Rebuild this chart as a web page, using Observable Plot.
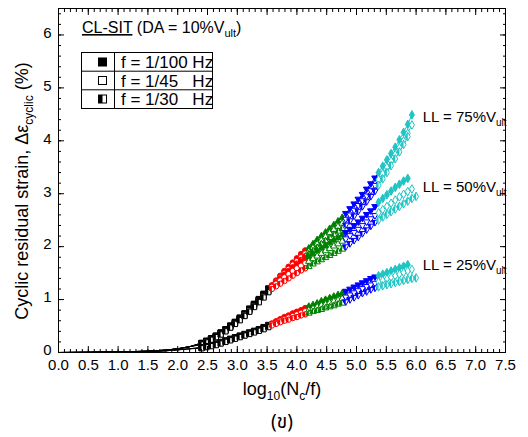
<!DOCTYPE html>
<html><head><meta charset="utf-8">
<script src="https://cdn.jsdelivr.net/npm/d3@7"></script>
<script src="https://cdn.jsdelivr.net/npm/@observablehq/plot@0.6"></script>
<style>
body{margin:0;background:#fff;}
svg{font-family:"Liberation Sans",Arial,sans-serif;}
</style>
</head><body><div id="chart"></div>
<script>
// ---------- data ----------
const xLead  = [0, 0.5, 1.0, 1.5, 1.8, 2.0, 2.2];
const leadUpper = [0, 0.004, 0.01, 0.025, 0.045, 0.07, 0.11];
const leadLower = [0, 0.003, 0.007, 0.018, 0.032, 0.05, 0.07];

const xBlack = [2.40, 2.48, 2.56, 2.64, 2.72, 2.80, 2.88, 2.96, 3.04, 3.12, 3.20, 3.28, 3.36, 3.44, 3.52];
const xRed   = [3.58, 3.65, 3.72, 3.79, 3.86, 3.93, 4.00, 4.07, 4.14];
const xGreen = [4.20, 4.27, 4.34, 4.41, 4.48, 4.55, 4.62, 4.69, 4.76];
const xBlue  = [4.82, 4.89, 4.96, 5.03, 5.10, 5.17, 5.24, 5.31];
const xCyan  = [5.37, 5.44, 5.51, 5.58, 5.65, 5.72, 5.79, 5.86, 5.93, 6.00];

const y75F = [0.18,0.22,0.27,0.32,0.38,0.44,0.51,0.58,0.66,0.74,0.83,0.92,1.01,1.11,1.21,
  1.27,1.36,1.45,1.54,1.62,1.70,1.78,1.86,1.93,
  1.97,2.05,2.13,2.20,2.27,2.34,2.41,2.48,2.55,
  2.63,2.72,2.81,2.90,2.99,3.09,3.19,3.30,
  3.40,3.52,3.64,3.76,3.88,4.02,4.16,4.31,4.49];
const y75O = [0.17,0.21,0.26,0.31,0.37,0.43,0.50,0.57,0.64,0.72,0.81,0.90,0.99,1.09,1.19,
  1.26,1.34,1.42,1.50,1.58,1.66,1.73,1.80,1.87,
  1.91,1.98,2.05,2.12,2.19,2.26,2.32,2.38,2.44,
  2.52,2.60,2.69,2.78,2.87,2.96,3.06,3.16,
  3.27,3.38,3.50,3.62,3.74,3.87,4.00,4.14,4.30];
const y75H = [0.16,0.20,0.25,0.30,0.36,0.42,0.48,0.55,0.62,0.70,0.79,0.88,0.97,1.07,1.17,
  1.25,1.32,1.40,1.47,1.54,1.61,1.68,1.75,1.82,
  1.86,1.92,1.98,2.05,2.11,2.17,2.23,2.29,2.34,
  2.41,2.49,2.58,2.67,2.76,2.85,2.95,3.05,
  3.16,3.28,3.40,3.53,3.66,3.79,3.93,4.08];
const y50F = [0.18,0.22,0.26,0.31,0.37,0.43,0.50,0.57,0.65,0.73,0.82,0.91,1.00,1.10,1.20,
  1.25,1.32,1.39,1.46,1.53,1.60,1.66,1.72,1.78,
  1.81,1.86,1.92,1.97,2.02,2.07,2.12,2.17,2.22,
  2.27,2.33,2.40,2.47,2.54,2.61,2.68,2.76,
  2.84,2.91,2.98,3.05,3.12,3.18,3.24,3.29];
const y50O = [0.16,0.20,0.25,0.30,0.35,0.41,0.48,0.55,0.63,0.71,0.79,0.88,0.97,1.06,1.16,
  1.24,1.30,1.36,1.42,1.48,1.54,1.59,1.64,1.69,
  1.72,1.77,1.82,1.87,1.92,1.96,2.01,2.05,2.10,
  2.15,2.21,2.27,2.33,2.40,2.47,2.53,2.59,
  2.64,2.70,2.76,2.82,2.88,2.94,2.99,3.04,3.09];
const y50H = [0.15,0.19,0.24,0.29,0.34,0.40,0.47,0.54,0.61,0.69,0.77,0.86,0.95,1.04,1.14,
  1.20,1.25,1.30,1.35,1.40,1.45,1.50,1.55,1.59,
  1.62,1.67,1.71,1.75,1.79,1.83,1.87,1.91,1.95,
  2.00,2.06,2.12,2.18,2.25,2.32,2.39,2.46,
  2.50,2.56,2.61,2.66,2.71,2.76,2.81,2.86,2.91,2.95];
const y25F = [0.10,0.12,0.14,0.17,0.20,0.23,0.26,0.29,0.32,0.35,0.38,0.41,0.44,0.48,0.52,
  0.55,0.59,0.63,0.67,0.70,0.74,0.77,0.80,0.84,
  0.87,0.90,0.93,0.97,1.00,1.03,1.06,1.09,1.12,
  1.16,1.20,1.24,1.28,1.32,1.36,1.40,1.43,
  1.45,1.48,1.51,1.54,1.57,1.60,1.63,1.66];
const y25O = [0.09,0.11,0.13,0.15,0.18,0.21,0.24,0.27,0.30,0.33,0.36,0.39,0.42,0.46,0.50,
  0.53,0.56,0.60,0.63,0.66,0.69,0.72,0.75,0.78,
  0.80,0.83,0.86,0.89,0.91,0.94,0.97,0.99,1.02,
  1.05,1.09,1.13,1.17,1.21,1.25,1.28,1.31,
  1.33,1.36,1.39,1.42,1.45,1.48,1.51,1.54,1.57];
const y25H = [0.08,0.10,0.12,0.14,0.17,0.20,0.23,0.26,0.29,0.32,0.35,0.38,0.41,0.44,0.48,
  0.51,0.54,0.57,0.60,0.62,0.65,0.67,0.70,0.72,
  0.74,0.77,0.79,0.81,0.84,0.86,0.88,0.91,0.93,
  0.96,1.00,1.04,1.08,1.12,1.15,1.19,1.22,
  1.24,1.26,1.28,1.30,1.32,1.34,1.36,1.38,1.40,1.41];

const curveNames = ["75F","75O","75H","50F","50O","50H","25F","25O","25H"];
const curveY     = [y75F, y75O, y75H, y50F, y50O, y50H, y25F, y25O, y25H];
const curveFill  = ["solid","open","half","solid","open","half","solid","open","half"];
const curveGroup = ["upper","upper","upper","upper","upper","upper","lower","lower","lower"];

const stageX      = [xBlack, xRed, xGreen, xBlue, xCyan];
const stageColors = ["#000000", "#ff0000", "#008000", "#0000ff", "#1fc4c4"];

const xTicks = [0,0.5,1,1.5,2,2.5,3,3.5,4,4.5,5,5.5,6,6.5,7,7.5];
const yTicks = [0,1,2,3,4,5,6];
const legendLabels = ["f = 1/100 Hz", "f = 1/45   Hz", "f = 1/30   Hz"];
const llLabels = ["LL = 75%V", "LL = 50%V", "LL = 25%V"];
const llX = [6.12, 6.12, 6.12];
const llY = [4.35, 3.02, 1.55];

// ---------- build tables ----------
const points = [], lineRows = [];
curveNames.forEach((name, c) => {
  const lead = curveGroup[c] === "upper" ? leadUpper : leadLower;
  xLead.forEach((x, i) => lineRows.push({curve: name, x, y: lead[i], stage: 0}));
  let k = 0;
  stageX.forEach((xs, s) => xs.forEach(x => {
    if (k < curveY[c].length) {
      const p = {curve: name, x, y: curveY[c][k++], stage: s, fill: curveFill[c]};
      points.push(p); lineRows.push(p);
    }
  }));
});

// ---------- symbols ----------
const sqrt3 = Math.sqrt(3), tan30 = Math.sqrt(1/3);
const triDown = {draw(ctx, size){ const y = -Math.sqrt(size/(sqrt3*3)); ctx.moveTo(0,-y*2); ctx.lineTo(-sqrt3*y, y); ctx.lineTo(sqrt3*y, y); ctx.closePath(); }};
const halfSquare = {draw(ctx, size){ const s = Math.sqrt(size)/2; ctx.moveTo(-s,-s); ctx.lineTo(0,-s); ctx.lineTo(0,s); ctx.lineTo(-s,s); ctx.closePath(); }};
const halfCircle = {draw(ctx, size){ const r = Math.sqrt(size/Math.PI); ctx.moveTo(0,-r); ctx.arc(0,0,r,-Math.PI/2,Math.PI/2,true); ctx.closePath(); }};
const halfTriUp = {draw(ctx, size){ const y = -Math.sqrt(size/(sqrt3*3)); ctx.moveTo(0,2*y); ctx.lineTo(sqrt3*y,-y); ctx.lineTo(0,-y); ctx.closePath(); }};
const halfTriDown = {draw(ctx, size){ const y = -Math.sqrt(size/(sqrt3*3)); ctx.moveTo(0,-2*y); ctx.lineTo(sqrt3*y,y); ctx.lineTo(0,y); ctx.closePath(); }};
const halfDiamond = {draw(ctx, size){ const y = Math.sqrt(size/(2*tan30)), x = y*tan30; ctx.moveTo(0,-y); ctx.lineTo(-x,0); ctx.lineTo(0,y); ctx.closePath(); }};
const fullSym = [d3.symbolSquare, d3.symbolCircle, d3.symbolTriangle, triDown, d3.symbolDiamond];
const halfSym = [halfSquare, halfCircle, halfTriUp, halfTriDown, halfDiamond];
const stageR  = [3.0, 2.7, 2.4, 2.4, 2.6];

const dotMarks = [];
curveNames.forEach((name) => {
  [0,1,2,3,4].forEach(s => {
    const pts = points.filter(p => p.curve === name && p.stage === s);
    if (!pts.length) return;
    const col = stageColors[s];
    const f = pts[0].fill;
    dotMarks.push(Plot.dot(pts, {x: "x", y: "y", symbol: fullSym[s], r: stageR[s],
      fill: f === "solid" ? col : "white", stroke: col, strokeWidth: 1}));
    if (f === "half") dotMarks.push(Plot.dot(pts, {x: "x", y: "y", symbol: halfSym[s], r: stageR[s], fill: col, stroke: "none"}));
  });
});

const xMinor = d3.range(0, 7.5001, 0.1);
const yMinor = d3.range(0, 6.5001, 0.2);
const blank = () => "";

const plot = Plot.plot({
  width: 528, height: 437,
  marginLeft: 58, marginRight: 23, marginTop: 8, marginBottom: 85,
  x: {domain: [0, 7.5], label: null},
  y: {domain: [0, 6.5], label: null},
  style: {fontFamily: "'Liberation Sans', Arial, sans-serif", fontSize: "15px", color: "#000", background: "#fff"},
  marks: [
    Plot.line(lineRows, {x: "x", y: "y", z: "curve", stroke: d => stageColors[d.stage], strokeWidth: 1}),
    ...dotMarks,
    Plot.frame({stroke: "#000", strokeWidth: 1}),
    Plot.axisX(xMinor, {anchor: "bottom", tickSize: -3, tickFormat: blank, label: null}),
    Plot.axisX(xMinor, {anchor: "top", tickSize: -3, tickFormat: blank, label: null}),
    Plot.axisX(xTicks, {anchor: "bottom", tickSize: -6, tickFormat: blank, label: null}),
    Plot.axisX(xTicks, {anchor: "top", tickSize: -6, tickFormat: blank, label: null}),
    Plot.axisX(xTicks, {anchor: "bottom", tickSize: 0, tickPadding: 7, tickFormat: d3.format(".1f"), fontSize: 15, label: null}),
    Plot.axisY(yMinor, {anchor: "left", tickSize: -3, tickFormat: blank, label: null}),
    Plot.axisY(yMinor, {anchor: "right", tickSize: -3, tickFormat: blank, label: null}),
    Plot.axisY(yTicks, {anchor: "left", tickSize: -6, tickFormat: blank, label: null}),
    Plot.axisY(yTicks, {anchor: "right", tickSize: -6, tickFormat: blank, label: null}),
    Plot.axisY(yTicks, {anchor: "left", tickSize: 0, tickPadding: 7, dy: -2, tickFormat: d3.format("d"), fontSize: 15, label: null})
  ]
});
document.getElementById("chart").appendChild(plot);

// ---------- annotations ----------
const svg = d3.select(plot);
const sx = plot.scale("x"), sy = plot.scale("y");

llLabels.forEach((t, i) => {
  const tx = svg.append("text").attr("x", sx.apply(llX[i])).attr("y", sy.apply(llY[i]))
    .attr("text-anchor", "start").attr("font-size", 15).attr("fill", "#000");
  tx.append("tspan").text(t);
  tx.append("tspan").attr("font-size", 10).attr("dy", 4).text("ult");
});

const xt = svg.append("text").attr("x", 282).attr("y", 395).attr("text-anchor", "middle").attr("font-size", 18);
xt.append("tspan").text("log");
xt.append("tspan").attr("font-size", 12).attr("dy", 5).text("10");
xt.append("tspan").attr("dy", -5).text("(N");
xt.append("tspan").attr("font-size", 12).attr("dy", 5).text("c");
xt.append("tspan").attr("dy", -5).text("/f)");

svg.append("text").attr("x", 282).attr("y", 428).attr("text-anchor", "middle")
  .attr("font-size", 19).attr("font-family", "'Noto Sans Thai','DejaVu Serif','DejaVu Sans',serif").text("(ข)");

const yt = svg.append("text").attr("transform", "translate(28,191) rotate(-90)").attr("text-anchor", "middle").attr("font-size", 18);
yt.append("tspan").text("Cyclic residual strain, Δε");
yt.append("tspan").attr("font-size", 12).attr("dy", 5).text("cyclic");
yt.append("tspan").attr("dy", -5).text(" (%)");

const lh = svg.append("text").attr("x", 82).attr("y", 33).attr("text-anchor", "start").attr("font-size", 16);
lh.append("tspan").attr("text-decoration", "underline").style("text-decoration", "underline").text("CL-SIT");
lh.append("tspan").text(" (DA = 10%V");
lh.append("tspan").attr("font-size", 11).attr("dy", 4).text("ult");
lh.append("tspan").attr("dy", -4).text(")");

const g = svg.append("g").attr("stroke", "#000").attr("fill", "none").attr("stroke-width", 1);
g.append("rect").attr("x", 81.5).attr("y", 52.5).attr("width", 131).attr("height", 56);
g.append("line").attr("x1", 114.5).attr("x2", 114.5).attr("y1", 52.5).attr("y2", 108.5);
g.append("line").attr("x1", 81.5).attr("x2", 212.5).attr("y1", 71.2).attr("y2", 71.2);
g.append("line").attr("x1", 81.5).attr("x2", 212.5).attr("y1", 89.8).attr("y2", 89.8);
const rowC = [62, 80.5, 99];
svg.append("rect").attr("x", 98).attr("y", rowC[0]-4.5).attr("width", 9).attr("height", 9).attr("fill", "#000");
svg.append("rect").attr("x", 98.5).attr("y", rowC[1]-4).attr("width", 8).attr("height", 8).attr("fill", "#fff").attr("stroke", "#000");
svg.append("rect").attr("x", 98.5).attr("y", rowC[2]-4).attr("width", 8).attr("height", 8).attr("fill", "#fff").attr("stroke", "#000");
svg.append("rect").attr("x", 98.5).attr("y", rowC[2]-4).attr("width", 4).attr("height", 8).attr("fill", "#000");
legendLabels.forEach((t, i) => {
  svg.append("text").attr("x", 121).attr("y", rowC[i] + 6).attr("text-anchor", "start").attr("font-size", 17)
    .style("white-space", "pre").attr("xml:space", "preserve").text(t);
});
</script>
</body></html>
